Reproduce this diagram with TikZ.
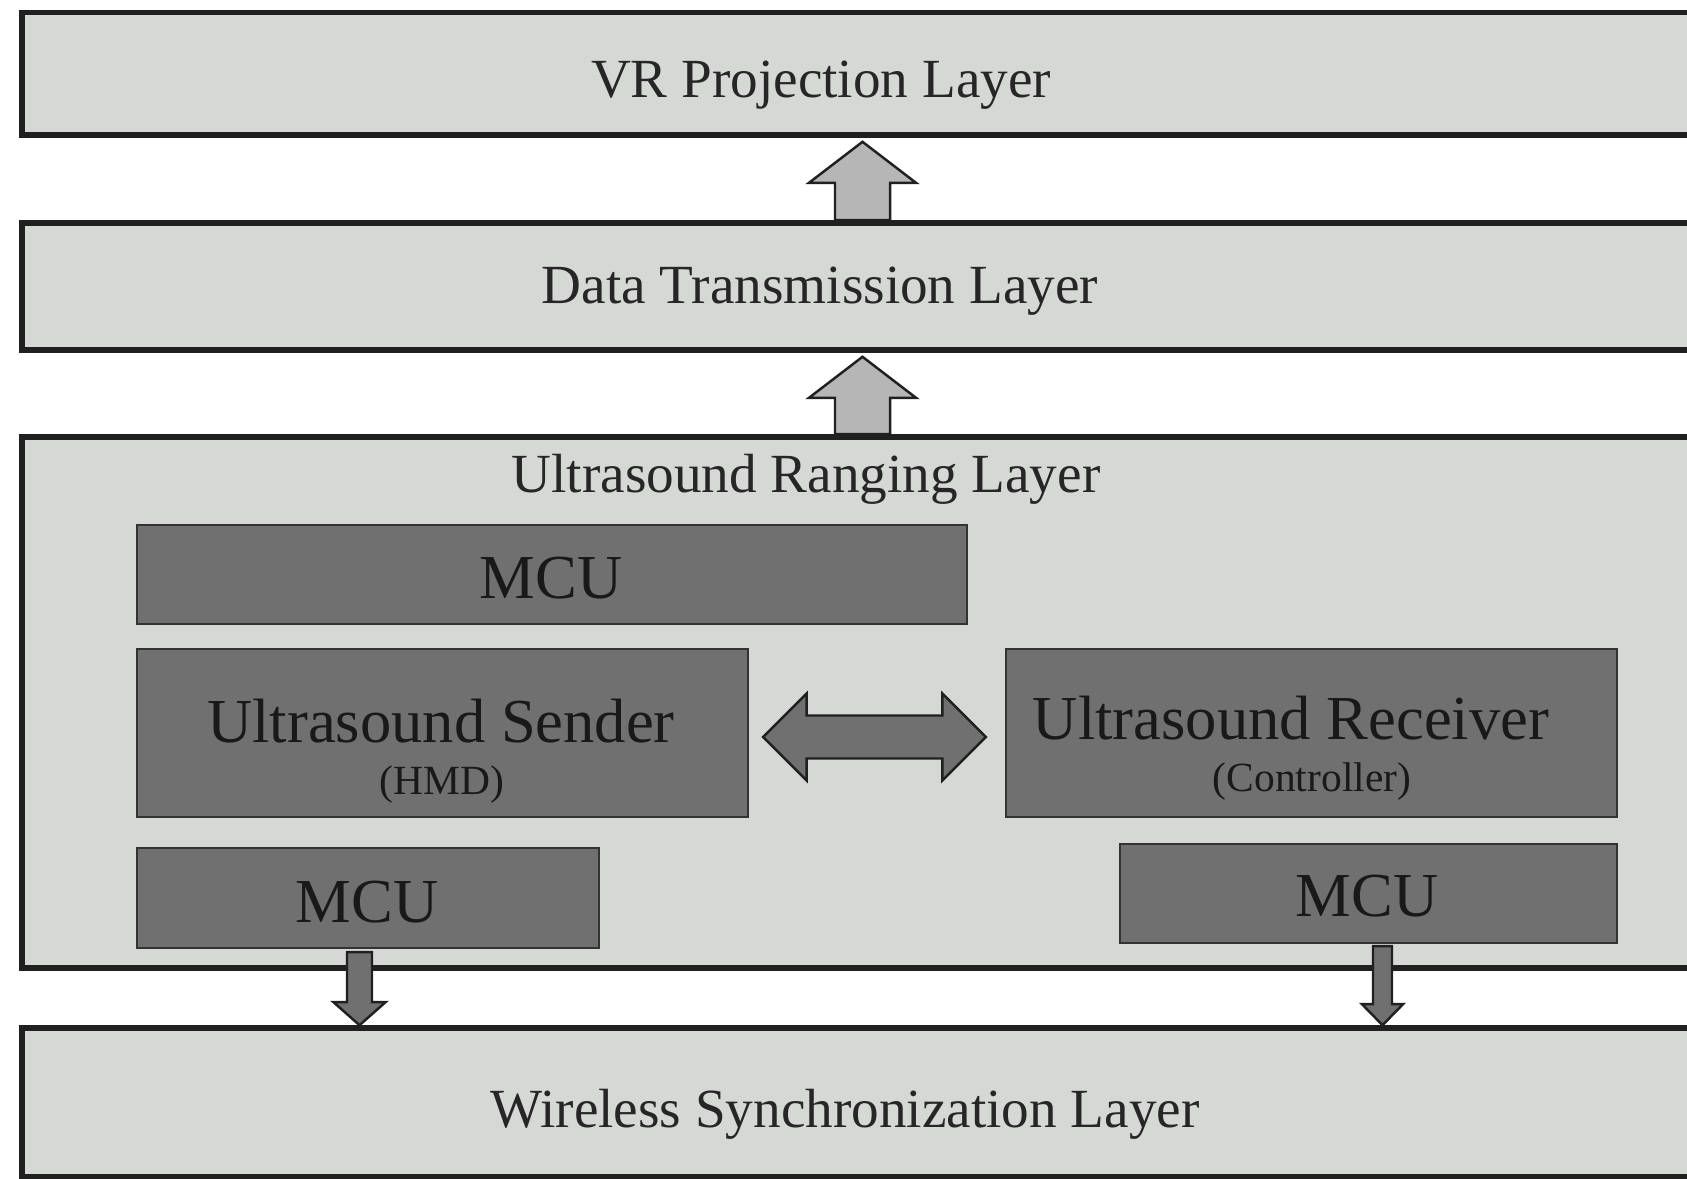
\documentclass[tikz,border=0pt]{standalone}
\usepackage{fontspec}
\setmainfont{Liberation Serif}
\usetikzlibrary{calc, fit}
\definecolor{layerGray}{RGB}{214,216,214}
\definecolor{unitGray}{RGB}{112,112,112}
\definecolor{liftGray}{RGB}{182,182,182}
\definecolor{edgeDark}{RGB}{32,32,32}

% block arrow: style, tail, tip, shaft half width, head half width, head length
\newcommand{\blockarrow}[6]{%
  \path ($(#3)!#6!(#2)$) coordinate (hb);
  \draw[#1] ($(#2)!#4!90:(#3)$) -- ($(hb)!#4!90:(#3)$) -- ($(hb)!#5!90:(#3)$) -- (#3)
    -- ($(hb)!#5!-90:(#3)$) -- ($(hb)!#4!-90:(#3)$) -- ($(#2)!#4!-90:(#3)$) -- cycle;}
% two-headed block arrow: style, end a, end b, shaft half width, head half width, head length
\newcommand{\twoblockarrow}[6]{%
  \path ($(#2)!#6!(#3)$) coordinate (ha) ($(#3)!#6!(#2)$) coordinate (hb);
  \draw[#1] (#2) -- ($(ha)!#5!90:(#3)$) -- ($(ha)!#4!90:(#3)$) -- ($(hb)!#4!-90:(#2)$)
    -- ($(hb)!#5!-90:(#2)$) -- (#3) -- ($(hb)!#5!90:(#2)$) -- ($(hb)!#4!90:(#2)$)
    -- ($(ha)!#4!-90:(#3)$) -- ($(ha)!#5!-90:(#3)$) -- cycle;}

\begin{document}
\begin{tikzpicture}[
        x=0.01cm, y=-0.01cm,
        layer/.style={rectangle, draw=edgeDark, line width=1.6pt, fill=layerGray, inner sep=0pt},
        unit/.style={rectangle, draw=black!80, line width=0.6pt, fill=unitGray, inner sep=0pt},
        layertext/.style={font=\fontsize{15.7}{18}\selectfont, text=black!85},
        unittext/.style={font=\fontsize{17.8}{20}\selectfont, text=black!90},
        subtext/.style={font=\fontsize{11.8}{14}\selectfont, text=black!90},
        liftarrow/.style={draw=edgeDark, line width=0.7pt, fill=liftGray},
        darkarrow/.style={draw=edgeDark, line width=0.7pt, fill=unitGray}
    ]
        \useasboundingbox (0,0) rectangle (1687,1179);
        \clip (0,0) rectangle (1687,1179);

        % --- Layers ---
        \node[layer, fit={(22,12.5)(1760,135)}] (vr) {};
        \node[layertext] (vrlbl) at (821,85) {VR Projection Layer};
        \node[layer, fit={(22,223)(1760,350)}] (data) {};
        \node[layertext] (datalbl) at (820,291) {Data Transmission Layer};
        \node[layer, fit={(22,437)(1760,968)}] (rng) {};
        \node[layertext] (rnglbl) at (806,479) {Ultrasound Ranging Layer};
        \node[layer, fit={(22,1028)(1760,1177)}] (wls) {};
        \node[layertext] (wlslbl) at (845,1114) {Wireless Synchronization Layer};

        % --- Units inside the ranging layer ---
        \node[unit, fit={(137,525)(967,624)}] (mcutop) {};
        \node[unittext] (mcutoplbl) at (551,578) {MCU};
        \node[unit, fit={(137,649)(748,817)}] (sender) {};
        \node[unittext] (senderlbl) at (441,721) {Ultrasound Sender};
        \node[subtext] (sendersub) at (442,785) {(HMD)};
        \node[unit, fit={(1006,649)(1617,817)}] (receiver) {};
        \node[unittext] (receiverlbl) at (1291,718) {Ultrasound Receiver};
        \node[subtext] (receiversub) at (1312,782) {(Controller)};
        \node[unit, fit={(137,848)(599,948)}] (mculeft) {};
        \node[unittext] (mculeftlbl) at (367,902) {MCU};
        \node[unit, fit={(1120,844)(1617,943)}] (mcuright) {};
        \node[unittext] (mcurightlbl) at (1367,896) {MCU};

        % --- Arrows ---
        \coordinate (up1tail) at (data.north -| 862.5,0);
        \coordinate (up1tip) at ($(vr.south -| 862.5,0)+(0,4)$);
        \coordinate (up2tail) at (rng.north -| 862.5,0);
        \coordinate (up2tip) at ($(data.south -| 862.5,0)+(0,4)$);
        \blockarrow{liftarrow}{up1tail}{up1tip}{0.275cm}{0.535cm}{0.41cm}
        \blockarrow{liftarrow}{up2tail}{up2tip}{0.275cm}{0.535cm}{0.41cm}

        \coordinate (dnltail) at ($(mculeft.south -| 359.5,0)+(0,3)$);
        \coordinate (dnltip) at (wls.north -| 359.5,0);
        \coordinate (dnrtail) at ($(mcuright.south -| 1382.5,0)+(0,2)$);
        \coordinate (dnrtip) at (wls.north -| 1382.5,0);
        \blockarrow{darkarrow}{dnltail}{dnltip}{0.125cm}{0.26cm}{0.23cm}
        \blockarrow{darkarrow}{dnrtail}{dnrtip}{0.095cm}{0.205cm}{0.21cm}

        \coordinate (linkl) at ($(sender.east)+(14,4)$);
        \coordinate (linkr) at ($(receiver.west)+(-19,4)$);
        \twoblockarrow{darkarrow}{linkl}{linkr}{0.215cm}{0.435cm}{0.435cm}
    \end{tikzpicture}
\end{document}
